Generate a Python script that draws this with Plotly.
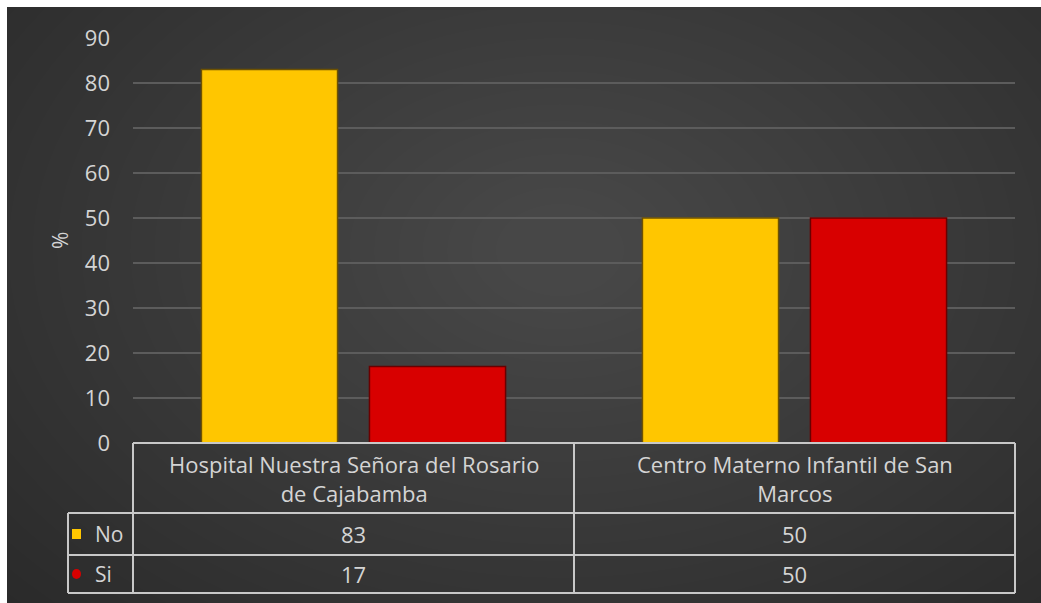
import plotly.graph_objects as go

# ---- data ----
categories = ["Hospital Nuestra Señora del Rosario de Cajabamba",
              "Centro Materno Infantil de San Marcos"]
category_labels = ["Hospital Nuestra Señora del Rosario<br>de Cajabamba",
                   "Centro Materno Infantil de San<br>Marcos"]
series_names = ["No", "Si"]
values_no = [83, 50]
values_si = [17, 50]
y_ticks = [0, 10, 20, 30, 40, 50, 60, 70, 80, 90]
y_title = "%"

# ---- layout geometry (pixels) ----
W, H = 1041, 603
PL, PR, PT, PB = 133, 1015, 38, 443     # plot area
PW, PH = PR - PL, PB - PT

def px(x):
    return (x - PL) / PW

def py(y):
    return (PB - y) / PH

FONT = "Open Sans"
TXT = "#d4d4d4"
YEL = "#FFC600"
RED = "#D80000"

fig = go.Figure()
fig.add_trace(go.Bar(x=categories, y=values_no, name=series_names[0],
                     marker=dict(color=YEL, line=dict(color="#6e5200", width=1.5))))
fig.add_trace(go.Bar(x=categories, y=values_si, name=series_names[1],
                     marker=dict(color=RED, line=dict(color="#6a0000", width=1.5))))

shapes = []
# background panel with radial vignette
PX0, PX1, PY0, PY1 = 7, 1041, 7, 603
shapes.append(dict(type="rect", xref="paper", yref="paper", layer="below",
                   x0=px(PX0), x1=px(PX1), y0=py(PY0), y1=py(PY1),
                   fillcolor="#272727", line=dict(width=0)))
n_steps = 32
for i in range(n_steps):
    f = i / n_steps
    cx, cy = 560, 250
    rx = 820 * (1 - f) + 40 * f
    ry = 560 * (1 - f) + 30 * f
    shapes.append(dict(type="circle", xref="paper", yref="paper", layer="below",
                       x0=px(cx - rx), x1=px(cx + rx), y0=py(cy - ry), y1=py(cy + ry),
                       fillcolor="rgba(255,255,255,0.0065)", line=dict(width=0)))
# white frame outside panel
for (a, b, c, d) in [(-20, PX0, -20, H + 20), (-20, W + 20, -20, PY0)]:
    shapes.append(dict(type="rect", xref="paper", yref="paper", layer="below",
                       x0=px(a), x1=px(b), y0=py(c), y1=py(d),
                       fillcolor="white", line=dict(width=0)))

# data table lines
LC = "#c8c8c8"
LW = 2
n = len(categories)
row_y = [443, 513, 555, 593]
KEY_X = 68

def hline(x0, x1, y):
    shapes.append(dict(type="line", xref="paper", yref="paper", layer="above",
                       x0=px(x0), x1=px(x1), y0=py(y), y1=py(y),
                       line=dict(color=LC, width=LW)))

def vline(x, y0, y1):
    shapes.append(dict(type="line", xref="paper", yref="paper", layer="above",
                       x0=px(x), x1=px(x), y0=py(y0), y1=py(y1),
                       line=dict(color=LC, width=LW)))

hline(PL, PR, row_y[0])
for y in row_y[1:]:
    hline(KEY_X, PR, y)
for i in range(n + 1):
    vline(PL + PW * i / n, row_y[0], row_y[-1])
vline(KEY_X, row_y[1], row_y[-1])

annotations = []
for i, lab in enumerate(category_labels):
    annotations.append(dict(x=(i + 0.5) / n, y=py((row_y[0] + row_y[1]) / 2),
                            xref="paper", yref="paper", text=lab, showarrow=False,
                            font=dict(family=FONT, size=22, color=TXT),
                            align="center", xanchor="center", yanchor="middle"))
series_vals = [values_no, values_si]
colors = [YEL, RED]
for r, (name, vals, col) in enumerate(zip(series_names, series_vals, colors)):
    yc = (row_y[r + 1] + row_y[r + 2]) / 2
    for i, v in enumerate(vals):
        annotations.append(dict(x=(i + 0.5) / n, y=py(yc), xref="paper", yref="paper",
                                text=str(v), showarrow=False,
                                font=dict(family=FONT, size=22, color=TXT),
                                xanchor="center", yanchor="middle"))
    # legend key
    shapes.append(dict(type="rect" if r == 0 else "circle", xref="paper", yref="paper",
                       layer="above", x0=px(72), x1=px(81), y0=py(yc - 5), y1=py(yc + 5),
                       fillcolor=col, line=dict(width=0)))
    annotations.append(dict(x=px(93), y=py(yc), xref="paper", yref="paper",
                            text=name, showarrow=False,
                            font=dict(family=FONT, size=21, color=TXT),
                            xanchor="left", yanchor="middle"))

annotations.append(dict(x=px(60), y=py(241), xref="paper", yref="paper", text=y_title,
                        textangle=-90, showarrow=False,
                        font=dict(family=FONT, size=21, color=TXT),
                        xanchor="center", yanchor="middle"))

fig.update_layout(
    width=W, height=H,
    margin=dict(l=PL, r=W - PR, t=PT, b=H - PB, pad=0),
    paper_bgcolor="white",
    plot_bgcolor="rgba(0,0,0,0)",
    barmode="group", bargap=0.238, bargroupgap=0.19,
    showlegend=False,
    shapes=shapes, annotations=annotations,
    xaxis=dict(showticklabels=False, showgrid=False, zeroline=False, showline=False,
               ticks=""),
    yaxis=dict(range=[0, 90], tickvals=y_ticks, showgrid=True, gridcolor="#5c5c5c",
               gridwidth=2, zeroline=False, showline=False, ticks="",
               ticklabelstandoff=22,
               tickfont=dict(family=FONT, size=22, color=TXT)),
    font=dict(family=FONT),
)

fig.write_html("out.html", config={"displayModeBar": False},
               post_script="document.body.style.margin='0';document.body.style.overflow='hidden';")
